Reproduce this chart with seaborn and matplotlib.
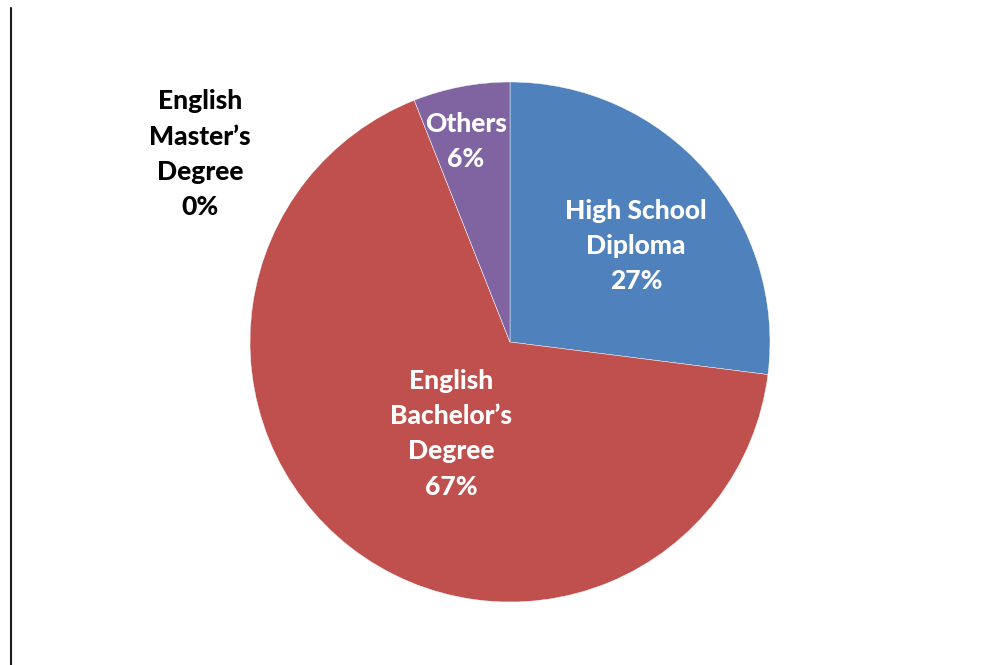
import matplotlib
matplotlib.use("Agg")
import matplotlib.pyplot as plt
import seaborn as sns
from matplotlib.lines import Line2D
import numpy as np

sns.set_style("white")
plt.rcParams["font.family"] = ["Lato", "DejaVu Sans"]

categories = ["High School\nDiploma", "English\nBachelor\u2019s\nDegree",
              "English\nMaster\u2019s\nDegree", "Others"]
shares = [27, 67, 0, 6]
colors = ["#4F81BD", "#C0504D", "#8064A2", "#8064A2"]
label_colors = ["white", "white", "black", "white"]
# label placement: radial distance (fraction of radius) and angle in degrees
label_dist = [0.61, 0.42, 1.394, 0.788]
label_angle = [37.3, 237.3, 148.8, 102.4]

W, H = 1001, 665
fig = plt.figure(figsize=(W / 100, H / 100), dpi=100)
cx, cy, r = 510, 323, 260
ax = fig.add_axes([(cx - r) / W, (cy - r) / H, 2 * r / W, 2 * r / H])

wedges, _ = ax.pie(shares, colors=colors, startangle=90, counterclock=False,
                   radius=1.0, wedgeprops=dict(edgecolor="white", linewidth=0.3))
ax.set_xlim(-1, 1)
ax.set_ylim(-1, 1)
ax.set_axis_off()

for cat, val, d, a, tc in zip(categories, shares, label_dist, label_angle,
                              label_colors):
    x, y = d * np.cos(np.radians(a)), d * np.sin(np.radians(a))
    ax.text(x, y, f"{cat}\n{val}%", ha="center", va="center", color=tc,
            fontsize=19, fontweight="black", linespacing=1.56, clip_on=False)

fig.add_artist(Line2D([10.5 / W, 10.5 / W], [0, (H - 8) / H],
                      color="#1a1a1a", linewidth=1.5, transform=fig.transFigure))

fig.savefig("out.png", dpi=100, facecolor="white")
